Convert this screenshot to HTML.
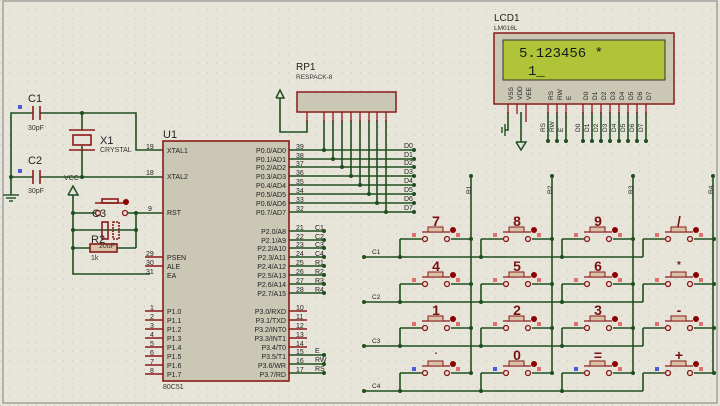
<!DOCTYPE html>
<html><head><meta charset="utf-8"><style>
html,body{margin:0;padding:0;background:#e7e5da;}
svg{display:block}
text{font-family:"Liberation Sans",sans-serif;}
</style></head><body>
<svg width="720" height="406" viewBox="0 0 720 406" xmlns="http://www.w3.org/2000/svg">
<defs>
<pattern id="g" width="9" height="9" patternUnits="userSpaceOnUse"><rect x="0" y="0" width="1" height="1" fill="#c9c6b8"/></pattern>
<g id="sw">
<line x1="0" y1="0" x2="21" y2="0" stroke="#1e4f1e" stroke-width="1.6"/>
<line x1="0" y1="0" x2="0" y2="18" stroke="#1e4f1e" stroke-width="1.6"/>
<line x1="21" y1="0" x2="23" y2="0" stroke="#8b1a1a" stroke-width="1.4"/>
<line x1="51" y1="0" x2="71" y2="0" stroke="#1e4f1e" stroke-width="1.6"/>
<circle cx="25" cy="0" r="2.5" fill="#e7e5da" stroke="#8b1a1a" stroke-width="1.3"/>
<circle cx="47" cy="0" r="2.5" fill="#e7e5da" stroke="#8b1a1a" stroke-width="1.3"/>
<line x1="22" y1="-7" x2="50" y2="-7" stroke="#8b1a1a" stroke-width="1.3"/>
<rect x="28" y="-12" width="15" height="5" fill="#d9c3a8" stroke="#8b1a1a" stroke-width="1"/>
<circle cx="53" cy="-9" r="3" fill="#8b0000"/>
<rect x="56" y="-6" width="4" height="4" fill="#e07070"/>
<rect x="12" y="-6" width="4" height="4" fill="#e07070"/>
<circle cx="71" cy="0" r="2" fill="#1e4f1e"/>
</g>
</defs>
<rect width="720" height="406" fill="#e7e5da"/>
<rect width="720" height="406" fill="url(#g)"/>
<rect x="3" y="1" width="714" height="402" fill="none" stroke="#a0a0a0" stroke-width="1.5"/>

<g stroke="#1e4f1e" stroke-width="1.6" fill="none">
<polyline points="11,195 11,113 33,113"/>
<polyline points="40,113 136,113 136,150 163,150"/>
<line x1="11" y1="177" x2="33" y2="177"/>
<line x1="40" y1="177" x2="163" y2="177"/>
<line x1="82" y1="113" x2="82" y2="130"/>
<line x1="82" y1="146" x2="82" y2="177"/>
<polyline points="73,195 73,274 150,274"/>
<line x1="73" y1="213" x2="95" y2="213"/>
<line x1="128" y1="213" x2="163" y2="213"/>
<line x1="73" y1="230" x2="136" y2="230"/>
<line x1="73" y1="248" x2="90" y2="248"/>
<line x1="117" y1="248" x2="136" y2="248"/>
<line x1="136" y1="213" x2="136" y2="248"/>
<polyline points="280,98 280,132 307,132 307,120"/>
<line x1="289" y1="150" x2="414" y2="150"/><line x1="289" y1="159" x2="414" y2="159"/>
<line x1="289" y1="167" x2="414" y2="167"/><line x1="289" y1="176" x2="414" y2="176"/>
<line x1="289" y1="185" x2="414" y2="185"/><line x1="289" y1="194" x2="414" y2="194"/>
<line x1="289" y1="203" x2="414" y2="203"/><line x1="289" y1="212" x2="414" y2="212"/>
<line x1="324" y1="120" x2="324" y2="150"/><line x1="333" y1="120" x2="333" y2="159"/>
<line x1="342" y1="120" x2="342" y2="167"/><line x1="351" y1="120" x2="351" y2="176"/>
<line x1="360" y1="120" x2="360" y2="185"/><line x1="369" y1="120" x2="369" y2="194"/>
<line x1="377" y1="120" x2="377" y2="203"/><line x1="386" y1="120" x2="386" y2="212"/>
<line x1="289" y1="231" x2="324" y2="231"/><line x1="289" y1="240" x2="324" y2="240"/>
<line x1="289" y1="248" x2="324" y2="248"/><line x1="289" y1="257" x2="324" y2="257"/>
<line x1="289" y1="266" x2="324" y2="266"/><line x1="289" y1="275" x2="324" y2="275"/>
<line x1="289" y1="284" x2="324" y2="284"/><line x1="289" y1="293" x2="324" y2="293"/>
<line x1="289" y1="355" x2="324" y2="355"/><line x1="289" y1="364" x2="324" y2="364"/>
<line x1="289" y1="373" x2="324" y2="373"/>
<polyline points="508,112 508,130 505,130"/>
<line x1="521" y1="112" x2="521" y2="142"/>
<line x1="548" y1="112" x2="548" y2="141"/><line x1="557" y1="112" x2="557" y2="141"/><line x1="566" y1="112" x2="566" y2="141"/>
<line x1="583" y1="112" x2="583" y2="141"/><line x1="592" y1="112" x2="592" y2="141"/><line x1="601" y1="112" x2="601" y2="141"/>
<line x1="610" y1="112" x2="610" y2="141"/><line x1="619" y1="112" x2="619" y2="141"/><line x1="628" y1="112" x2="628" y2="141"/>
<line x1="637" y1="112" x2="637" y2="141"/><line x1="646" y1="112" x2="646" y2="141"/>
<line x1="471" y1="176" x2="471" y2="373"/><line x1="552" y1="176" x2="552" y2="373"/>
<line x1="633" y1="176" x2="633" y2="373"/><line x1="713" y1="176" x2="713" y2="373"/>
<line x1="364" y1="257" x2="643" y2="257"/><line x1="364" y1="302" x2="643" y2="302"/>
<line x1="364" y1="346" x2="643" y2="346"/><line x1="364" y1="391" x2="643" y2="391"/>
</g>
<g fill="#1e4f1e">
<circle cx="82" cy="113" r="2"/><circle cx="82" cy="177" r="2"/><circle cx="11" cy="177" r="2"/>
<circle cx="73" cy="230" r="2"/><circle cx="73" cy="248" r="2"/><circle cx="136" cy="230" r="2"/><circle cx="136" cy="213" r="2"/><circle cx="73" cy="213" r="2"/>
<circle cx="324" cy="150" r="2"/><circle cx="333" cy="159" r="2"/><circle cx="342" cy="167" r="2"/><circle cx="351" cy="176" r="2"/>
<circle cx="360" cy="185" r="2"/><circle cx="369" cy="194" r="2"/><circle cx="377" cy="203" r="2"/><circle cx="386" cy="212" r="2"/>
<circle cx="414" cy="150" r="2"/><circle cx="414" cy="159" r="2"/><circle cx="414" cy="167" r="2"/><circle cx="414" cy="176" r="2"/>
<circle cx="414" cy="185" r="2"/><circle cx="414" cy="194" r="2"/><circle cx="414" cy="203" r="2"/><circle cx="414" cy="212" r="2"/>
<circle cx="324" cy="231" r="2"/><circle cx="324" cy="240" r="2"/><circle cx="324" cy="248" r="2"/><circle cx="324" cy="257" r="2"/>
<circle cx="324" cy="266" r="2"/><circle cx="324" cy="275" r="2"/><circle cx="324" cy="284" r="2"/><circle cx="324" cy="293" r="2"/>
<circle cx="324" cy="355" r="2"/><circle cx="324" cy="364" r="2"/><circle cx="324" cy="373" r="2"/>
<circle cx="548" cy="141" r="2"/><circle cx="557" cy="141" r="2"/><circle cx="566" cy="141" r="2"/><circle cx="583" cy="141" r="2"/>
<circle cx="592" cy="141" r="2"/><circle cx="601" cy="141" r="2"/><circle cx="610" cy="141" r="2"/><circle cx="619" cy="141" r="2"/>
<circle cx="628" cy="141" r="2"/><circle cx="637" cy="141" r="2"/><circle cx="646" cy="141" r="2"/>
<circle cx="471" cy="176" r="2"/><circle cx="552" cy="176" r="2"/><circle cx="633" cy="176" r="2"/><circle cx="713" cy="176" r="2"/>
<circle cx="364" cy="257" r="2"/><circle cx="364" cy="302" r="2"/><circle cx="364" cy="346" r="2"/><circle cx="364" cy="391" r="2"/>
<circle cx="400" cy="257" r="2"/><circle cx="481" cy="257" r="2"/><circle cx="562" cy="257" r="2"/>
<circle cx="400" cy="302" r="2"/><circle cx="481" cy="302" r="2"/><circle cx="562" cy="302" r="2"/>
<circle cx="400" cy="346" r="2"/><circle cx="481" cy="346" r="2"/><circle cx="562" cy="346" r="2"/>
<circle cx="400" cy="391" r="2"/><circle cx="481" cy="391" r="2"/><circle cx="562" cy="391" r="2"/>
</g>

<g stroke="#1e4f1e" stroke-width="1.4"><line x1="3" y1="195" x2="19" y2="195"/><line x1="6" y1="198" x2="16" y2="198"/><line x1="9" y1="201" x2="13" y2="201"/>
<line x1="505" y1="124" x2="505" y2="136"/><line x1="502" y1="127" x2="502" y2="133"/></g>
<g fill="none" stroke="#1e4f1e" stroke-width="1.5"><polyline points="68,195 73,186 78,195 68,195"/>
<polyline points="276,98 280,90 284,98 276,98"/><polyline points="516,142 521,150 526,142 516,142"/></g>

<g stroke="#8b1a1a" stroke-width="1.6" fill="none">
<line x1="33" y1="106" x2="33" y2="120"/><line x1="40" y1="106" x2="40" y2="120"/>
<line x1="33" y1="170" x2="33" y2="184"/><line x1="40" y1="170" x2="40" y2="184"/>
<line x1="69" y1="130" x2="95" y2="130"/><line x1="69" y1="150" x2="95" y2="150"/>
<rect x="73" y="135" width="18" height="10"/>
<line x1="95" y1="203" x2="128" y2="203"/><rect x="102" y="199" width="16" height="4"/>
<rect x="102" y="222" width="6" height="17"/><rect x="113" y="222" width="6" height="17" stroke-dasharray="2 1"/>
<rect x="90" y="244" width="27" height="8" fill="#d9c3a8"/>
</g>
<circle cx="98" cy="213" r="2.5" fill="#e7e5da" stroke="#8b1a1a" stroke-width="1.3"/>
<circle cx="125" cy="213" r="2.5" fill="#e7e5da" stroke="#8b1a1a" stroke-width="1.3"/>
<circle cx="126" cy="202" r="3" fill="#8b0000"/>
<g font-size="11" fill="#222"><text x="28" y="102">C1</text><text x="28" y="164">C2</text><text x="100" y="144">X1</text><text x="92" y="217">C3</text><text x="91" y="243">R2</text></g>
<g font-size="7" fill="#333"><text x="28" y="130">30pF</text><text x="28" y="193">30pF</text><text x="100" y="152">CRYSTAL</text><text x="64" y="180">VCC</text><text x="99" y="248">20uF</text><text x="91" y="260">1k</text></g>
<g fill="#4a5ad8"><rect x="18" y="105" width="4" height="4"/><rect x="18" y="169" width="4" height="4"/></g>

<rect x="163" y="141" width="126" height="240" fill="#cbc7b5" stroke="#8b1a1a" stroke-width="1.6"/>
<text x="163" y="138" font-size="11" fill="#222">U1</text>
<text x="163" y="389" font-size="7" fill="#333">80C51</text>
<g stroke="#8b1a1a" stroke-width="1.4">
<line x1="145" y1="311" x2="163" y2="311"/><line x1="145" y1="320" x2="163" y2="320"/><line x1="145" y1="329" x2="163" y2="329"/><line x1="145" y1="338" x2="163" y2="338"/>
<line x1="145" y1="347" x2="163" y2="347"/><line x1="145" y1="356" x2="163" y2="356"/><line x1="145" y1="365" x2="163" y2="365"/><line x1="145" y1="374" x2="163" y2="374"/>
<line x1="145" y1="257" x2="163" y2="257"/><line x1="145" y1="266" x2="163" y2="266"/>
<line x1="289" y1="311" x2="307" y2="311"/><line x1="289" y1="320" x2="307" y2="320"/><line x1="289" y1="329" x2="307" y2="329"/><line x1="289" y1="338" x2="307" y2="338"/><line x1="289" y1="347" x2="307" y2="347"/>
</g>
<g font-size="7" fill="#222">
<text x="167" y="153">XTAL1</text><text x="167" y="179">XTAL2</text><text x="167" y="215">RST</text>
<text x="167" y="260">PSEN</text><text x="167" y="269">ALE</text><text x="167" y="278">EA</text>
<text x="167" y="314">P1.0</text><text x="167" y="323">P1.1</text><text x="167" y="332">P1.2</text><text x="167" y="341">P1.3</text>
<text x="167" y="350">P1.4</text><text x="167" y="359">P1.5</text><text x="167" y="368">P1.6</text><text x="167" y="377">P1.7</text>
<text x="146" y="149">19</text><text x="146" y="175">18</text><text x="148" y="211">9</text><text x="146" y="256">29</text><text x="146" y="265">30</text><text x="146" y="274">31</text>
<text x="150" y="310">1</text><text x="150" y="319">2</text><text x="150" y="328">3</text><text x="150" y="337">4</text><text x="150" y="346">5</text><text x="150" y="355">6</text><text x="150" y="364">7</text><text x="150" y="373">8</text>
</g>
<g font-size="7" fill="#222" text-anchor="end">
<text x="286" y="153">P0.0/AD0</text><text x="286" y="162">P0.1/AD1</text><text x="286" y="170">P0.2/AD2</text><text x="286" y="179">P0.3/AD3</text>
<text x="286" y="188">P0.4/AD4</text><text x="286" y="197">P0.5/AD5</text><text x="286" y="206">P0.6/AD6</text><text x="286" y="215">P0.7/AD7</text>
<text x="286" y="234">P2.0/A8</text><text x="286" y="243">P2.1/A9</text><text x="286" y="251">P2.2/A10</text><text x="286" y="260">P2.3/A11</text>
<text x="286" y="269">P2.4/A12</text><text x="286" y="278">P2.5/A13</text><text x="286" y="287">P2.6/A14</text><text x="286" y="296">P2.7/A15</text>
<text x="286" y="314">P3.0/RXD</text><text x="286" y="323">P3.1/TXD</text><text x="286" y="332">P3.2/INT0</text><text x="286" y="341">P3.3/INT1</text>
<text x="286" y="350">P3.4/T0</text><text x="286" y="359">P3.5/T1</text><text x="286" y="368">P3.6/WR</text><text x="286" y="377">P3.7/RD</text>
</g>
<g font-size="7" fill="#222">
<text x="296" y="149">39</text><text x="296" y="158">38</text><text x="296" y="166">37</text><text x="296" y="175">36</text><text x="296" y="184">35</text><text x="296" y="193">34</text><text x="296" y="202">33</text><text x="296" y="211">32</text>
<text x="296" y="230">21</text><text x="296" y="239">22</text><text x="296" y="247">23</text><text x="296" y="256">24</text><text x="296" y="265">25</text><text x="296" y="274">26</text><text x="296" y="283">27</text><text x="296" y="292">28</text>
<text x="296" y="310">10</text><text x="296" y="319">11</text><text x="296" y="328">12</text><text x="296" y="337">13</text><text x="296" y="346">14</text><text x="296" y="354">15</text><text x="296" y="363">16</text><text x="296" y="372">17</text>
<text x="315" y="230">C1</text><text x="315" y="239">C2</text><text x="315" y="247">C3</text><text x="315" y="256">C4</text><text x="315" y="265">R1</text><text x="315" y="274">R2</text><text x="315" y="283">R3</text><text x="315" y="292">R4</text>
<text x="315" y="353">E</text><text x="315" y="362">RW</text><text x="315" y="371">RS</text>
<text x="404" y="148">D0</text><text x="404" y="157">D1</text><text x="404" y="165">D2</text><text x="404" y="174">D3</text><text x="404" y="183">D4</text><text x="404" y="192">D5</text><text x="404" y="201">D6</text><text x="404" y="210">D7</text>
</g>

<rect x="297" y="92" width="99" height="20" fill="#cbc7b5" stroke="#8b1a1a" stroke-width="1.5"/>
<g stroke="#8b1a1a" stroke-width="1.3"><line x1="307" y1="112" x2="307" y2="122"/><line x1="324" y1="112" x2="324" y2="122"/><line x1="333" y1="112" x2="333" y2="122"/><line x1="342" y1="112" x2="342" y2="122"/><line x1="351" y1="112" x2="351" y2="122"/><line x1="360" y1="112" x2="360" y2="122"/><line x1="369" y1="112" x2="369" y2="122"/><line x1="377" y1="112" x2="377" y2="122"/><line x1="386" y1="112" x2="386" y2="122"/></g>
<text x="296" y="70" font-size="10" fill="#222">RP1</text>
<text x="296" y="79" font-size="6.5" fill="#333">RESPACK-8</text>

<text x="494" y="21" font-size="10" fill="#222">LCD1</text>
<text x="494" y="30" font-size="6.5" fill="#333">LM016L</text>
<rect x="494" y="33" width="180" height="71" fill="#cbc7b5" stroke="#8b1a1a" stroke-width="1.5"/>
<rect x="503" y="40" width="162" height="40" fill="#b0c43a" stroke="#333" stroke-width="1"/>
<text x="519" y="57" style="font-family:'Liberation Mono',monospace" font-size="14" fill="#1a1a1a">5.123456 *</text>
<text x="528" y="75" style="font-family:'Liberation Mono',monospace" font-size="14" fill="#1a1a1a">1_</text>
<g stroke="#8b1a1a" stroke-width="1.3"><line x1="508" y1="104" x2="508" y2="114"/><line x1="517" y1="104" x2="517" y2="114"/><line x1="526" y1="104" x2="526" y2="122"/>
<line x1="548" y1="104" x2="548" y2="114"/><line x1="557" y1="104" x2="557" y2="114"/><line x1="566" y1="104" x2="566" y2="114"/>
<line x1="583" y1="104" x2="583" y2="114"/><line x1="592" y1="104" x2="592" y2="114"/><line x1="601" y1="104" x2="601" y2="114"/><line x1="610" y1="104" x2="610" y2="114"/>
<line x1="619" y1="104" x2="619" y2="114"/><line x1="628" y1="104" x2="628" y2="114"/><line x1="637" y1="104" x2="637" y2="114"/><line x1="646" y1="104" x2="646" y2="114"/></g>
<g font-size="6.5" fill="#222">
<text transform="translate(513,100) rotate(-90)">VSS</text><text transform="translate(522,100) rotate(-90)">VDD</text><text transform="translate(531,100) rotate(-90)">VEE</text>
<text transform="translate(553,100) rotate(-90)">RS</text><text transform="translate(562,100) rotate(-90)">RW</text><text transform="translate(571,100) rotate(-90)">E</text>
<text transform="translate(588,100) rotate(-90)">D0</text><text transform="translate(597,100) rotate(-90)">D1</text><text transform="translate(606,100) rotate(-90)">D2</text><text transform="translate(615,100) rotate(-90)">D3</text>
<text transform="translate(624,100) rotate(-90)">D4</text><text transform="translate(633,100) rotate(-90)">D5</text><text transform="translate(642,100) rotate(-90)">D6</text><text transform="translate(651,100) rotate(-90)">D7</text>
<text transform="translate(545,132) rotate(-90)">RS</text><text transform="translate(554,132) rotate(-90)">RW</text><text transform="translate(563,132) rotate(-90)">E</text>
<text transform="translate(580,132) rotate(-90)">D0</text><text transform="translate(589,132) rotate(-90)">D1</text><text transform="translate(598,132) rotate(-90)">D2</text><text transform="translate(607,132) rotate(-90)">D3</text>
<text transform="translate(616,132) rotate(-90)">D4</text><text transform="translate(625,132) rotate(-90)">D5</text><text transform="translate(634,132) rotate(-90)">D6</text><text transform="translate(643,132) rotate(-90)">D7</text>
<text transform="translate(471,194) rotate(-90)">R1</text><text transform="translate(552,194) rotate(-90)">R2</text><text transform="translate(633,194) rotate(-90)">R3</text><text transform="translate(713,194) rotate(-90)">R4</text>
<text x="372" y="254">C1</text><text x="372" y="299">C2</text><text x="372" y="343">C3</text><text x="372" y="388">C4</text>
</g>

<use href="#sw" x="400" y="239"/><use href="#sw" x="481" y="239"/><use href="#sw" x="562" y="239"/><use href="#sw" x="643" y="239"/>
<use href="#sw" x="400" y="284"/><use href="#sw" x="481" y="284"/><use href="#sw" x="562" y="284"/><use href="#sw" x="643" y="284"/>
<use href="#sw" x="400" y="328"/><use href="#sw" x="481" y="328"/><use href="#sw" x="562" y="328"/><use href="#sw" x="643" y="328"/>
<use href="#sw" x="400" y="373"/><use href="#sw" x="481" y="373"/><use href="#sw" x="562" y="373"/><use href="#sw" x="643" y="373"/>
<g fill="#4a5ad8"><rect x="412" y="367" width="4" height="4"/><rect x="493" y="367" width="4" height="4"/><rect x="574" y="367" width="4" height="4"/><rect x="655" y="367" width="4" height="4"/></g>
<g font-size="14" font-weight="bold" fill="#7a1010" text-anchor="middle">
<text x="436" y="226">7</text><text x="517" y="226">8</text><text x="598" y="226">9</text><text x="679" y="226">/</text>
<text x="436" y="271">4</text><text x="517" y="271">5</text><text x="598" y="271">6</text><text x="679" y="268" font-size="10">*</text>
<text x="436" y="315">1</text><text x="517" y="315">2</text><text x="598" y="315">3</text><text x="679" y="315">-</text>
<text x="436" y="354" font-size="10">.</text><text x="517" y="360">0</text><text x="598" y="360">=</text><text x="679" y="360">+</text>
</g>
</svg>
</body></html>
